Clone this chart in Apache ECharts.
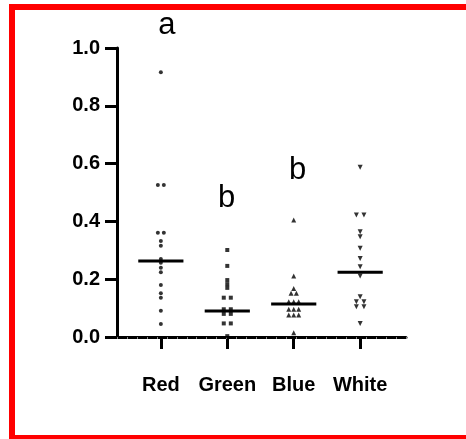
<!DOCTYPE html>
<html>
<head>
<meta charset="utf-8">
<script src="https://cdn.jsdelivr.net/npm/echarts@6/dist/echarts.min.js"></script>
<style>
  html, body { margin: 0; padding: 0; background: #fff; overflow: hidden; }
  #chart { width: 466px; height: 439px; }
</style>
</head>
<body>
<div id="chart"></div>
<script>
const categories = ['Red', 'Green', 'Blue', 'White'];
const yTicks = [0, 0.2, 0.4, 0.6, 0.8, 1.0];

// values, with the small sideways spread of the dot plot
const redValues = [0.916, 0.526, 0.526, 0.361, 0.361, 0.332, 0.316, 0.270, 0.257, 0.240, 0.224, 0.180, 0.151, 0.136, 0.091, 0.045];
const redSpread = [0, -0.045, 0.045, -0.045, 0.045, 0, 0, 0, 0, 0, 0, 0, 0, 0, 0, 0];
const greenValues = [0.301, 0.246, 0.197, 0.183, 0.170, 0.136, 0.136, 0.096, 0.096, 0.080, 0.080, 0.047, 0.047, 0.003];
const greenSpread = [0, 0, 0, 0, 0, -0.053, 0.053, -0.053, 0.053, -0.053, 0.053, -0.053, 0.053, 0];
const blueValues = [0.405, 0.211, 0.168, 0.151, 0.151, 0.122, 0.122, 0.122, 0.096, 0.096, 0.096, 0.076, 0.076, 0.076, 0.015];
const blueSpread = [0, 0, 0, -0.04, 0.04, -0.075, 0, 0.075, -0.075, 0, 0.075, -0.075, 0, 0.075, 0];
const whiteValues = [0.587, 0.422, 0.422, 0.364, 0.347, 0.307, 0.272, 0.243, 0.211, 0.139, 0.122, 0.122, 0.105, 0.105, 0.047];
const whiteSpread = [0, -0.057, 0.057, 0, 0, 0, 0, 0, 0, 0, -0.057, 0.057, -0.057, 0.057, 0];
const medians = [0.263, 0.090, 0.114, 0.224];

// significance letters
const letterText = ['a', 'b', 'b'];
const letterX = [0.09, 0.99, 2.06];
const letterY = [1.078, 0.479, 0.576];

function points(index, values, spread) {
  return values.map((v, i) => [index + spread[i], v]);
}

const chart = echarts.init(document.getElementById('chart'));

const dotSeries = (index, values, spread, symbol, size, rotate) => ({
  type: 'scatter',
  xAxisIndex: 0,
  symbol: symbol,
  symbolSize: size,
  symbolRotate: rotate || 0,
  itemStyle: {color: '#000'},
  silent: true,
  data: points(index, values, spread)
});

const frame = {fill: '#ff0000'};

const option = {
  animation: false,
  backgroundColor: '#fff',
  graphic: [
    // red frame: left, top and bottom bars (the right side is off the picture)
    {type: 'rect', shape: {x: 9, y: 4, width: 6, height: 435}, style: frame},
    {type: 'rect', shape: {x: 9, y: 4, width: 457, height: 6}, style: frame},
    {type: 'rect', shape: {x: 9, y: 435, width: 457, height: 4}, style: frame}
  ],
  grid: {left: 117, right: 60, top: 48, bottom: 102},
  xAxis: [
    {
      type: 'value',
      min: -0.66,
      max: 3.69,
      splitLine: {show: false},
      axisLine: {show: true, lineStyle: {color: '#000', width: 3}},
      axisTick: {show: true, customValues: [0, 1, 2, 3], length: 12, lineStyle: {color: '#000', width: 3}},
      axisLabel: {
        customValues: [0, 1, 2, 3],
        formatter: v => categories[Math.round(v)],
        margin: 38,
        color: '#000',
        fontFamily: 'Liberation Sans',
        fontWeight: 'bold',
        fontSize: 20
      }
    },
    {
      // faint minor ticks along the x axis
      type: 'value',
      position: 'bottom',
      min: 0,
      max: 29,
      interval: 1,
      splitLine: {show: false},
      axisLine: {show: false},
      axisTick: {show: true, length: 2, lineStyle: {color: '#888', width: 1}},
      axisLabel: {show: false}
    }
  ],
  yAxis: {
    type: 'value',
    min: 0,
    max: 1,
    interval: 0.2,
    splitLine: {show: false},
    axisLine: {show: true, onZero: false, lineStyle: {color: '#000', width: 3}},
    axisTick: {show: true, length: 12, lineStyle: {color: '#000', width: 3}},
    axisLabel: {
      formatter: v => v.toFixed(1),
      margin: 17,
      color: '#000',
      fontFamily: 'Liberation Sans',
      fontWeight: 'bold',
      fontSize: 20
    }
  },
  series: [
    dotSeries(0, redValues, redSpread, 'circle', 4),
    dotSeries(1, greenValues, greenSpread, 'rect', 4),
    dotSeries(2, blueValues, blueSpread, 'triangle', 5),
    dotSeries(3, whiteValues, whiteSpread, 'triangle', 5, 180),
    {
      // median bars
      type: 'custom',
      xAxisIndex: 0,
      silent: true,
      data: medians.map((m, i) => [i, m]),
      renderItem: (params, api) => {
        const a = api.coord([api.value(0) - 0.34, api.value(1)]);
        const b = api.coord([api.value(0) + 0.34, api.value(1)]);
        return {
          type: 'line',
          shape: {x1: a[0], y1: a[1], x2: b[0], y2: b[1]},
          style: {stroke: '#000', lineWidth: 3}
        };
      }
    },
    {
      // letters above the groups
      type: 'custom',
      xAxisIndex: 0,
      silent: true,
      clip: false,
      data: letterText.map((t, i) => [letterX[i], letterY[i], t]),
      renderItem: (params, api) => {
        const p = api.coord([api.value(0), api.value(1)]);
        return {
          type: 'text',
          x: p[0],
          y: p[1],
          style: {
            text: letterText[params.dataIndex],
            fill: '#000',
            font: '31px "Liberation Sans"',
            align: 'center',
            verticalAlign: 'middle'
          }
        };
      }
    }
  ]
};

chart.setOption(option);
</script>
</body>
</html>
